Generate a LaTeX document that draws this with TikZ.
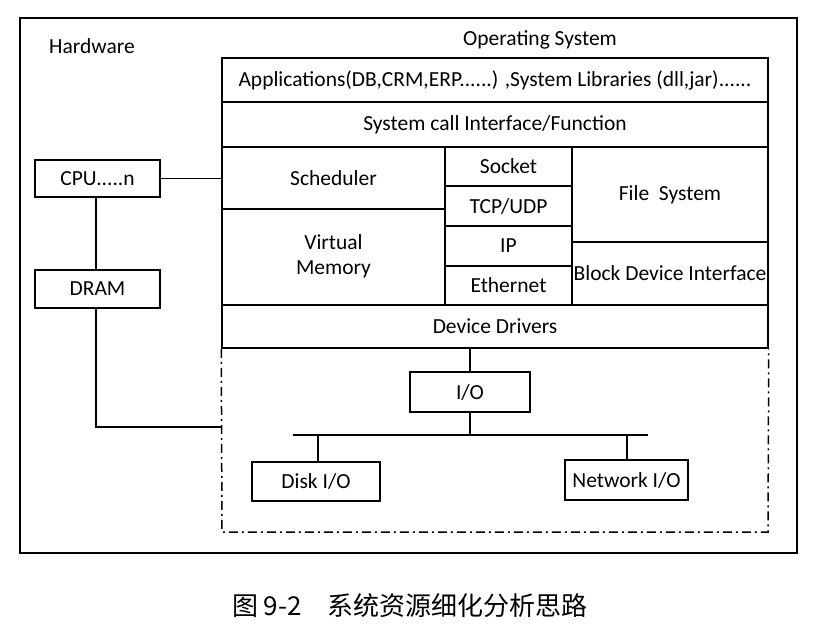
\documentclass[tikz,border=0pt]{standalone}
\usepackage{fontspec}
\setmainfont{Carlito}
\newfontfamily\cjk{Noto Sans CJK SC}
\usetikzlibrary{positioning}
\tikzset{
  blk/.style={draw, line width=1.5pt, inner sep=0pt, font=\fontsize{21.5}{25}\selectfont},
  lnk/.style={line width=1.5pt},
}
\newcommand{\blkat}[6]{% name, x1, y1, x2, y2, text
  \node[blk, minimum width={#4-#2}, minimum height={#5-#3}] (#1) at ({(#2+#4)/2},{(#3+#5)/2}) {#6};}
\begin{document}
\begin{tikzpicture}[x=1pt, y=-1pt]
\useasboundingbox (0,0) rectangle (818,630);
\draw[line width=1.8pt] (20,18) rectangle (797,553);
\node[font=\fontsize{21.5}{25}\selectfont] (hw) at (92,46) {Hardware};
\node[font=\fontsize{21.5}{25}\selectfont] (os) at (540,40) {Operating System};
% OS stack
\blkat{apps}{222}{58}{768}{102}{Applications(DB,CRM,ERP......) ,System Libraries (dll,jar)......}
\blkat{sys}{222}{102}{768}{147}{System call Interface/Function}
\blkat{sched}{222}{147}{445}{209}{Scheduler}
\blkat{vm}{222}{209}{445}{305}{\begin{tabular}{@{}c@{}}Virtual\\Memory\end{tabular}}
\blkat{sock}{445}{147}{572}{186}{Socket}
\blkat{tcp}{445}{186}{572}{226}{TCP/UDP}
\blkat{ip}{445}{226}{572}{266}{IP}
\blkat{eth}{445}{266}{572}{305}{Ethernet}
\blkat{fs}{572}{147}{768}{242}{File\ \ System}
\blkat{bdi}{572}{242}{768}{305}{Block Device Interface}
\blkat{dd}{222}{305}{768}{348}{Device Drivers}
\draw[line width=1.5pt, dash pattern=on 9pt off 4pt on 2pt off 4pt] (dd.south west) -- (222,532) -- (768,532) -- (dd.south east);
% I/O tree
\blkat{io}{410}{372}{530}{412}{I/O}
\blkat{disk}{252}{462}{380}{501}{Disk I/O}
\blkat{net}{565}{460}{688}{500}{Network I/O}
\coordinate (busl) at (293,435);
\coordinate (busr) at (648,435);
\draw[lnk] (busl) -- (busr);
\draw[lnk] (dd.south -| io.north) -- (io.north);
\draw[lnk] (io.south) -- (io.south |- busl);
\draw[lnk] (disk.north -| 318,0) -- (318,435);
\draw[lnk] (net.north -| 627,0) -- (627,435);
% hardware
\blkat{cpu}{35}{160}{160}{197}{CPU.....n}
\blkat{dram}{35}{270}{160}{308}{DRAM}
\draw[lnk] (cpu.east) -- (cpu.east -| sched.west);
\draw[lnk] (cpu.south -| 96,0) -- (dram.north -| 96,0);
\draw[lnk] (dram.south -| 96,0) -- (96,427) -- (222,427);
\node[font=\cjk\fontsize{26}{30}\selectfont] (cap) at (410,606) {图 9-2\quad 系统资源细化分析思路};
\end{tikzpicture}
\end{document}
